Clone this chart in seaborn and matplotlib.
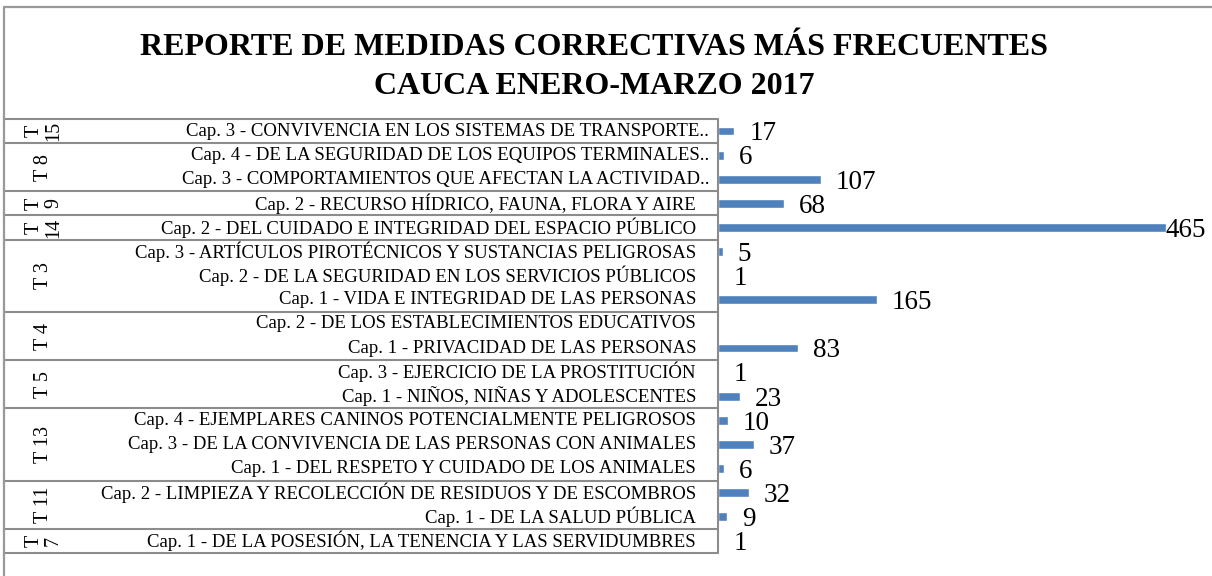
import numpy as np
import pandas as pd
import matplotlib
matplotlib.use("Agg")
import matplotlib.pyplot as plt
import matplotlib.transforms as mtransforms
from matplotlib.lines import Line2D
import seaborn as sns

# data, top to bottom as in the report
groups = ["T 15", "T 8", "T 9", "T 14", "T 3", "T 4", "T 5", "T 13", "T 11", "T 7"]
group_sizes = [1, 2, 1, 1, 3, 2, 2, 3, 2, 1]
chapters = [
    "Cap. 3 - CONVIVENCIA EN LOS SISTEMAS DE TRANSPORTE..",
    "Cap. 4 - DE LA SEGURIDAD DE LOS EQUIPOS TERMINALES..",
    "Cap. 3 - COMPORTAMIENTOS QUE AFECTAN LA ACTIVIDAD..",
    "Cap. 2 - RECURSO HÍDRICO, FAUNA, FLORA Y AIRE",
    "Cap. 2 - DEL CUIDADO E INTEGRIDAD DEL ESPACIO PÚBLICO",
    "Cap. 3 - ARTÍCULOS PIROTÉCNICOS Y SUSTANCIAS PELIGROSAS",
    "Cap. 2 - DE LA SEGURIDAD EN LOS SERVICIOS PÚBLICOS",
    "Cap. 1 - VIDA E INTEGRIDAD DE LAS PERSONAS",
    "Cap. 2 - DE LOS ESTABLECIMIENTOS EDUCATIVOS",
    "Cap. 1 - PRIVACIDAD DE LAS PERSONAS",
    "Cap. 3 - EJERCICIO DE LA PROSTITUCIÓN",
    "Cap. 1 - NIÑOS, NIÑAS Y ADOLESCENTES",
    "Cap. 4 - EJEMPLARES CANINOS POTENCIALMENTE PELIGROSOS",
    "Cap. 3 - DE LA CONVIVENCIA DE LAS PERSONAS CON ANIMALES",
    "Cap. 1 - DEL RESPETO Y CUIDADO DE LOS ANIMALES",
    "Cap. 2 - LIMPIEZA Y RECOLECCIÓN DE RESIDUOS Y DE ESCOMBROS",
    "Cap. 1 - DE LA SALUD PÚBLICA",
    "Cap. 1 - DE LA POSESIÓN, LA TENENCIA Y LAS SERVIDUMBRES",
]
counts = [17, 6, 107, 68, 465, 5, 1, 165, np.nan, 83, 1, 23, 10, 37, 6, 32, 9, 1]

title = "REPORTE DE MEDIDAS CORRECTIVAS MÁS FRECUENTES\nCAUCA ENERO-MARZO 2017"

sns.set_style("white")
plt.rcParams["font.family"] = ["Liberation Serif", "DejaVu Serif"]
plt.rcParams["text.color"] = "black"

W, H = 1212, 576
fig = plt.figure(figsize=(W / 100, H / 100), dpi=100)

# plot area in pixels
x0, x1 = 718, 1200
y_top, y_bot = 119, 553
ax = fig.add_axes([x0 / W, 1 - y_bot / H, (x1 - x0) / W, (y_bot - y_top) / H])

df = pd.DataFrame({"chapter": chapters, "count": counts})
sns.barplot(data=df, x="count", y="chapter", order=chapters, orient="h",
            color="#4f81bd", width=0.36, saturation=1, ax=ax)

n = len(chapters)
xmax = 465 * (x1 - x0) / (1166 - x0)
ax.set_xlim(0, xmax)
ax.set_ylim(n - 0.5, -0.5)
ax.set_xticks([])
ax.set_yticks([])
ax.set_xlabel("")
ax.set_ylabel("")
for s in ax.spines.values():
    s.set_visible(False)

# value labels
vmax = np.nanmax(counts)
for i, v in enumerate(counts):
    if np.isnan(v):
        continue
    off = 0 if v == vmax else 15
    ax.annotate("{:d}".format(int(v)), xy=(v, i), xytext=(off * 0.72, -2),
                textcoords="offset points", ha="left", va="center",
                fontsize=19.5, color="black", annotation_clip=False)

# category box (drawn in figure x / data y)
trans = mtransforms.blended_transform_factory(fig.transFigure, ax.transData)
line_kw = dict(color="#8c8c8c", lw=1.5, transform=trans, clip_on=False)

for i, lab in enumerate(chapters):
    xr = 709 if lab.endswith("..") else 696
    ax.text(xr / W, i, lab, ha="right", va="center", fontsize=13.5,
            transform=trans)

start = 0
bounds = [-0.5]
for g, size in zip(groups, group_sizes):
    mid = start + (size - 1) / 2
    label = g.replace(" ", "\n") if size == 1 else g
    ax.text(44 / W, mid, label, ha="center", va="center", rotation=90,
            fontsize=14.5, transform=trans, linespacing=1.0)
    start += size
    bounds.append(start - 0.5)

for b in bounds:
    ax.plot([4 / W, x0 / W], [b, b], **line_kw)
ax.plot([x0 / W, x0 / W], [-0.5, n - 0.5], **line_kw)

# chart border
fig.add_artist(Line2D([4 / W, 4 / W], [0, 1 - 7 / H], color="#999999", lw=1.6))
fig.add_artist(Line2D([4 / W, 1], [1 - 7 / H, 1 - 7 / H], color="#999999", lw=1.6))

fig.text(594 / W, 1 - 67 / H, title, ha="center", va="center",
         fontsize=23, fontweight="bold", linespacing=1.45)

fig.savefig("out.png", dpi=100)
